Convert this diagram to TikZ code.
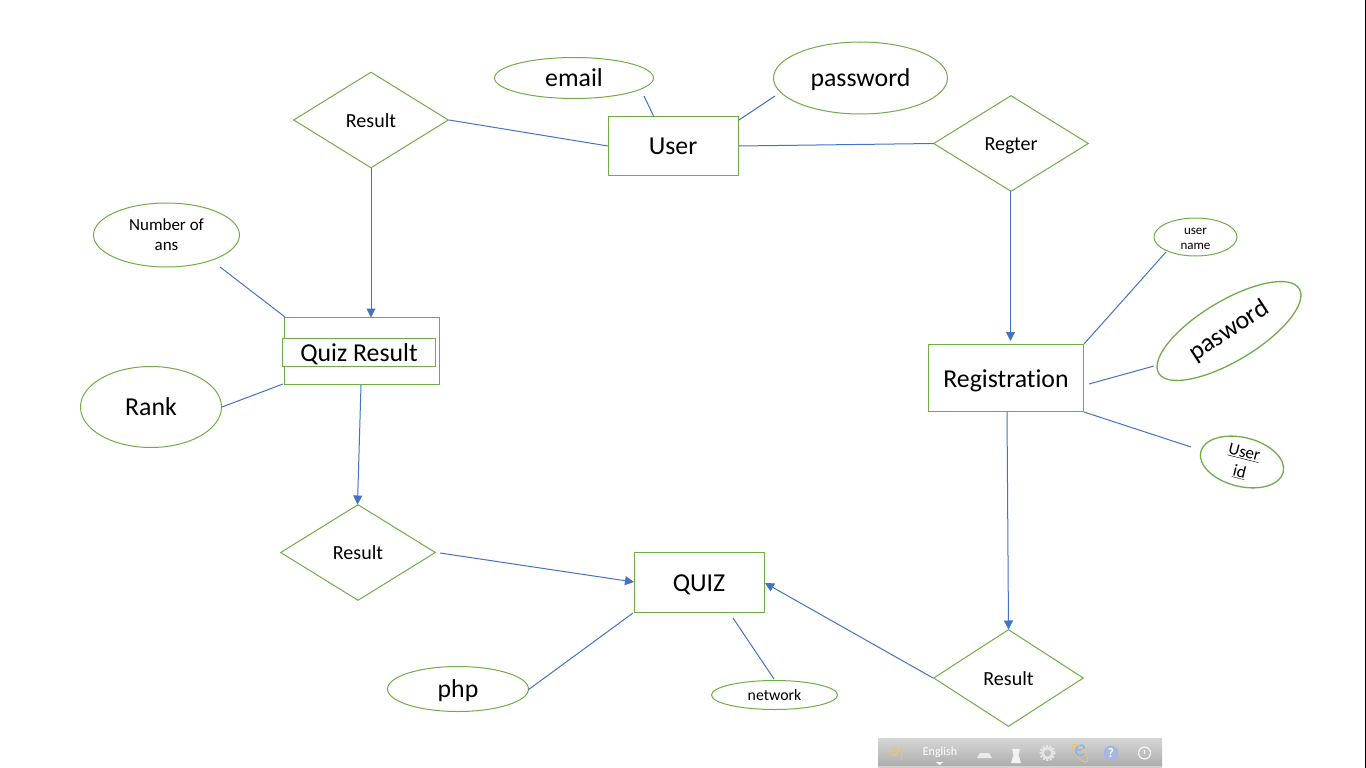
\documentclass[tikz,border=0pt]{standalone}
\usepackage{fontspec}
\usepackage{graphicx}
\setmainfont{Carlito}[Ligatures=NoCommon]
\usetikzlibrary{shapes.geometric,arrows.meta}
\definecolor{eg}{HTML}{70AD47}
\definecolor{eb}{HTML}{4472C4}
\definecolor{icoorange}{HTML}{E8C27A}
\definecolor{icoblue}{HTML}{A9B6E2}
\definecolor{ieblue}{HTML}{7FB8EC}
\newcommand{\fs}[1]{\fontsize{#1}{#1}\selectfont}
\tikzset{
 x=1pt,y=-1pt,
 big/.style={font=\fs{25.8},text height=20pt,text depth=3pt},
 bigdown/.style={font=\fs{25.8},text height=22pt,text depth=3pt},
 mid/.style={font=\fs{20},text height=16pt,text depth=2pt},
 ent/.style={draw=eg,line width=1pt,fill=white,rectangle,inner sep=0pt,text=black,align=center},
 attr/.style={draw=eg,line width=1pt,ellipse,inner sep=0pt,text=black,align=center},
 rel/.style={draw=eg,line width=1pt,diamond,inner sep=0pt,text=black,align=center},
 link/.style={draw=eb,line width=1pt},
 arr/.style={link,-{Triangle[length=9pt,width=9pt]}},
}
\begin{document}
\begin{tikzpicture}
\useasboundingbox (0,0) rectangle (1366,768);
\fill[white] (0,0) rectangle (1366,768);
% nodes
\node[ent,big,minimum width=130pt,minimum height=59pt] (user) at (673,146) {User};
\node[ent,minimum width=155pt,minimum height=67pt] (quizbox) at (362,351) {};
\node[ent,bigdown,minimum width=153pt,minimum height=28pt] (quiz) at (359,352) {Quiz Result};
\node[ent,bigdown,minimum width=155pt,minimum height=67pt] (reg) at (1006,378) {Registration};
\node[ent,big,minimum width=130pt,minimum height=60pt] (qz) at (699,582.5) {QUIZ};
\node[rel,mid,minimum width=155pt,minimum height=96pt] (r1) at (371,120) {Result};
\node[rel,mid,minimum width=155pt,minimum height=96pt] (r2) at (1011,143.5) {Regter};
\node[rel,mid,minimum width=155pt,minimum height=96pt] (r3) at (358,552.5) {Result};
\node[rel,mid,minimum width=150pt,minimum height=97pt] (r4) at (1008.5,678) {Result};
\node[attr,big,minimum width=159pt,minimum height=41pt] (email) at (574,78) {email};
\node[attr,big,minimum width=174pt,minimum height=72pt] (pw) at (860.5,78) {password};
\node[attr,minimum width=146pt,minimum height=64pt,font=\fs{17}] (num) at (166.5,235) {Number of\\[3pt]ans};
\node[attr,big,minimum width=141pt,minimum height=81pt] (rank) at (151,407) {Rank};
\node[attr,big,minimum width=141pt,minimum height=45pt] (php) at (458,689) {php};
\node[attr,minimum width=126pt,minimum height=29pt,font=\fs{15.8}] (net) at (774.5,695) {network};
\node[attr,minimum width=83pt,minimum height=38pt,font=\fs{13}] (un) at (1195.5,237) {\raisebox{-5pt}[6pt][6pt]{\begin{tabular}{@{}c@{}}user\\[2pt]name\end{tabular}}};
\node[attr,rotate=31,line width=1.3pt,minimum width=164pt,minimum height=60pt,font=\fs{25.8}] (pas) at (1229,331) {\rotatebox[origin=c]{2}{pasword}};
\node[attr,rotate=-14,line width=1.3pt,minimum width=85pt,minimum height=49pt,font=\fs{17}] (uid) at (1242,462) {\raisebox{-6pt}[6pt][6pt]{\begin{tabular}{@{}c@{}}\underline{User}\\[3pt]\underline{id}\end{tabular}}};
% free ends
\coordinate (a1) at (644,96);
\coordinate (a2) at (654,117);
\coordinate (b1) at (775,96);
\coordinate (b2) at (739,120);
\coordinate (c1) at (220,267);
\coordinate (c2) at (285,317);
\coordinate (d1) at (222,407);
\coordinate (d2) at (283,384);
\coordinate (e1) at (528,690);
\coordinate (e2) at (633,613);
\coordinate (f1) at (774,679);
\coordinate (f2) at (733,618);
\coordinate (g1) at (1166,252);
\coordinate (g2) at (1084,344);
\coordinate (h1) at (1154,366);
\coordinate (h2) at (1089,384);
\coordinate (i1) at (1191,447);
\coordinate (i2) at (1084,412);
\coordinate (j1) at (449,120);
\coordinate (j2) at (608,146);
\coordinate (k1) at (739,146);
\coordinate (k2) at (933,143.5);
% connectors
\draw[link] (a1) -- (a2);
\draw[link] (b1) -- (b2);
\draw[link] (c1) -- (c2);
\draw[link] (d1) -- (d2);
\draw[link] (e1) -- (e2);
\draw[link] (f1) -- (f2);
\draw[link] (g1) -- (g2);
\draw[link] (h1) -- (h2);
\draw[link] (i1) -- (i2);
\draw[link] (j1) -- (j2);
\draw[link] (k1) -- (k2);
\draw[arr] (371,168) -- (371,317.5);
\draw[arr] (1010.5,191) -- (1010.5,341);
\draw[arr] (361,385) -- (357.5,504.5);
\draw[arr] (1007,412) -- (1008.5,629.5);
\draw[arr] (440,553) -- (634,582);
\draw[arr] (r4.west) -- (765,583);
% taskbar
\shade[top color=black!16,bottom color=black!32] (878,738) rectangle (1162,766);
\fill[black!18] (878,766) rectangle (1162,768);
\draw[icoorange,line width=1.4pt,line cap=round] (888,751) .. controls (891,757) and (898,757) .. (898,751) .. controls (898,748) and (894,747) .. (892,749);
\draw[icoorange,line width=1.4pt,line cap=round] (898,751) -- (902,749) (901.5,746) -- (901.5,759);
\node[text=white,font=\fs{12}] (lang) at (940,752) {English};
\fill[white] (936,762) -- (943,762) -- (939.5,765) -- cycle;
\fill[white!92!black] (977,758) -- (980,753) -- (989,753) -- (992,758) -- cycle;
\fill[white!95!black] (1012,749) -- (1013.5,755) -- (1011,763) -- (1021,763) -- (1018.5,755) -- (1020,749) -- cycle;
\draw[black!10,line width=2.5pt] (1047.5,753) circle (5pt);
\draw[black!10,line width=2pt,dash pattern=on 2pt off 1.5pt] (1047.5,753) circle (7pt);
\node[text=ieblue,font=\fs{24}\itshape] (ie) at (1080,751) {e};
\draw[icoorange,line width=1pt,rotate around={-50:(1080,753)}] (1080,753) ellipse (11pt and 4.5pt);
\fill[icoblue] (1111,753) circle (7.5pt);
\node[text=white,font=\fs{13}\bfseries] (q) at (1111,753) {?};
\draw[white,line width=1pt] (1144.5,753) circle (6pt);
\draw[white,line width=1pt] (1144.5,750) -- (1144.5,754);
% right edge
\draw[black,line width=1pt] (1365.5,0) -- (1365.5,768);
\end{tikzpicture}
\end{document}
